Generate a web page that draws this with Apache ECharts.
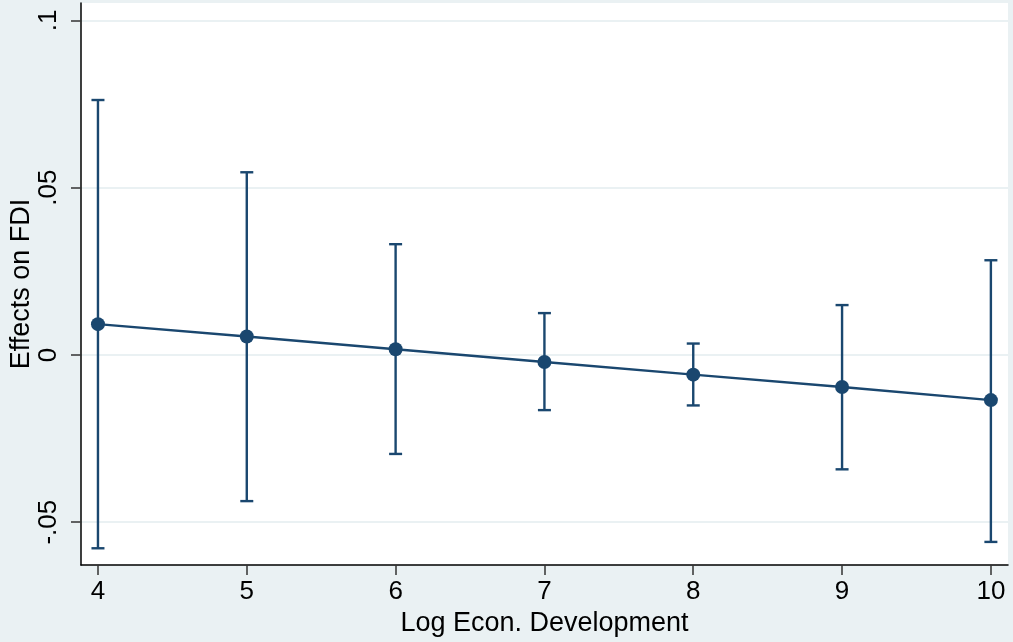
<!DOCTYPE html>
<html>
<head>
<meta charset="utf-8">
<script src="https://cdn.jsdelivr.net/npm/echarts@6/dist/echarts.min.js"></script>
<style>
html,body{margin:0;padding:0;background:#EAF1F3;}
#chart{width:1013px;height:642px;}
</style>
</head>
<body>
<div id="chart"></div>
<script>
var xVals = [4, 5, 6, 7, 8, 9, 10];
var estimates = [0.0092, 0.0055, 0.0017, -0.0021, -0.0059, -0.0096, -0.0135];
var upperCI = [0.0762, 0.0546, 0.0331, 0.0125, 0.0034, 0.0149, 0.0283];
var lowerCI = [-0.0578, -0.0437, -0.0296, -0.0165, -0.0151, -0.0342, -0.0559];
var xTicks = [4, 5, 6, 7, 8, 9, 10];
var yTicks = [-0.05, 0, 0.05, 0.1];
var yTickLabels = ['-.05', '0', '.05', '.1'];

var navy = '#1A476F';
var font = 'Liberation Sans, Arial, Helvetica, sans-serif';

var ciData = xVals.map(function (x, i) { return [x, lowerCI[i], upperCI[i]]; });
var pointData = xVals.map(function (x, i) { return [x, estimates[i]]; });

var chart = echarts.init(document.getElementById('chart'));
chart.setOption({
  backgroundColor: '#EAF1F3',
  animation: false,
  grid: { left: 81, right: 5, top: 3, bottom: 77, show: true, backgroundColor: '#ffffff', borderWidth: 0, containLabel: false, outerBoundsMode: 'none' },
  xAxis: {
    type: 'value',
    min: 3.886, max: 10.115,
    name: 'Log Econ. Development',
    nameLocation: 'middle',
    nameGap: 45,
    nameMoveOverlap: false,
    nameTextStyle: { fontFamily: font, fontSize: 27, color: '#000' },
    axisLine: { show: true, onZero: false, lineStyle: { color: '#000', width: 1.5 } },
    axisTick: { show: true, length: 10, customValues: xTicks, lineStyle: { color: '#333', width: 1.5 } },
    axisLabel: { customValues: xTicks, margin: 14, fontFamily: font, fontSize: 26, color: '#000' },
    splitLine: { show: false }
  },
  yAxis: {
    type: 'value',
    min: -0.0628, max: 0.1052,
    name: 'Effects on FDI',
    nameLocation: 'middle',
    nameGap: 46,
    nameMoveOverlap: false,
    nameTextStyle: { fontFamily: font, fontSize: 27, color: '#000' },
    axisLine: { show: true, onZero: false, lineStyle: { color: '#000', width: 1.5 } },
    axisTick: { show: true, length: 10, customValues: yTicks, lineStyle: { color: '#333', width: 1.5 } },
    axisLabel: {
      customValues: yTicks, rotate: 90, margin: 19, fontFamily: font, fontSize: 26, color: '#000',
      formatter: function (v) {
        for (var i = 0; i < yTicks.length; i++) { if (Math.abs(yTicks[i] - v) < 1e-9) return yTickLabels[i]; }
        return '';
      }
    },
    splitLine: { show: true, lineStyle: { color: '#EAF1F3', width: 2 } }
  },
  series: [
    {
      type: 'custom',
      data: ciData,
      z: 3,
      renderItem: function (params, api) {
        var x = api.value(0);
        var lo = api.coord([x, api.value(1)]);
        var hi = api.coord([x, api.value(2)]);
        var hw = 6.5;
        var st = { stroke: navy, lineWidth: 2.4, fill: null };
        return {
          type: 'group',
          children: [
            { type: 'line', shape: { x1: lo[0], y1: lo[1], x2: hi[0], y2: hi[1] }, style: st },
            { type: 'line', shape: { x1: hi[0] - hw, y1: hi[1], x2: hi[0] + hw, y2: hi[1] }, style: st },
            { type: 'line', shape: { x1: lo[0] - hw, y1: lo[1], x2: lo[0] + hw, y2: lo[1] }, style: st }
          ]
        };
      }
    },
    {
      type: 'line',
      data: pointData,
      z: 4,
      symbol: 'circle',
      symbolSize: 14,
      showSymbol: true,
      lineStyle: { color: navy, width: 2.4 },
      itemStyle: { color: navy, borderWidth: 0 }
    }
  ]
});
</script>
</body>
</html>
